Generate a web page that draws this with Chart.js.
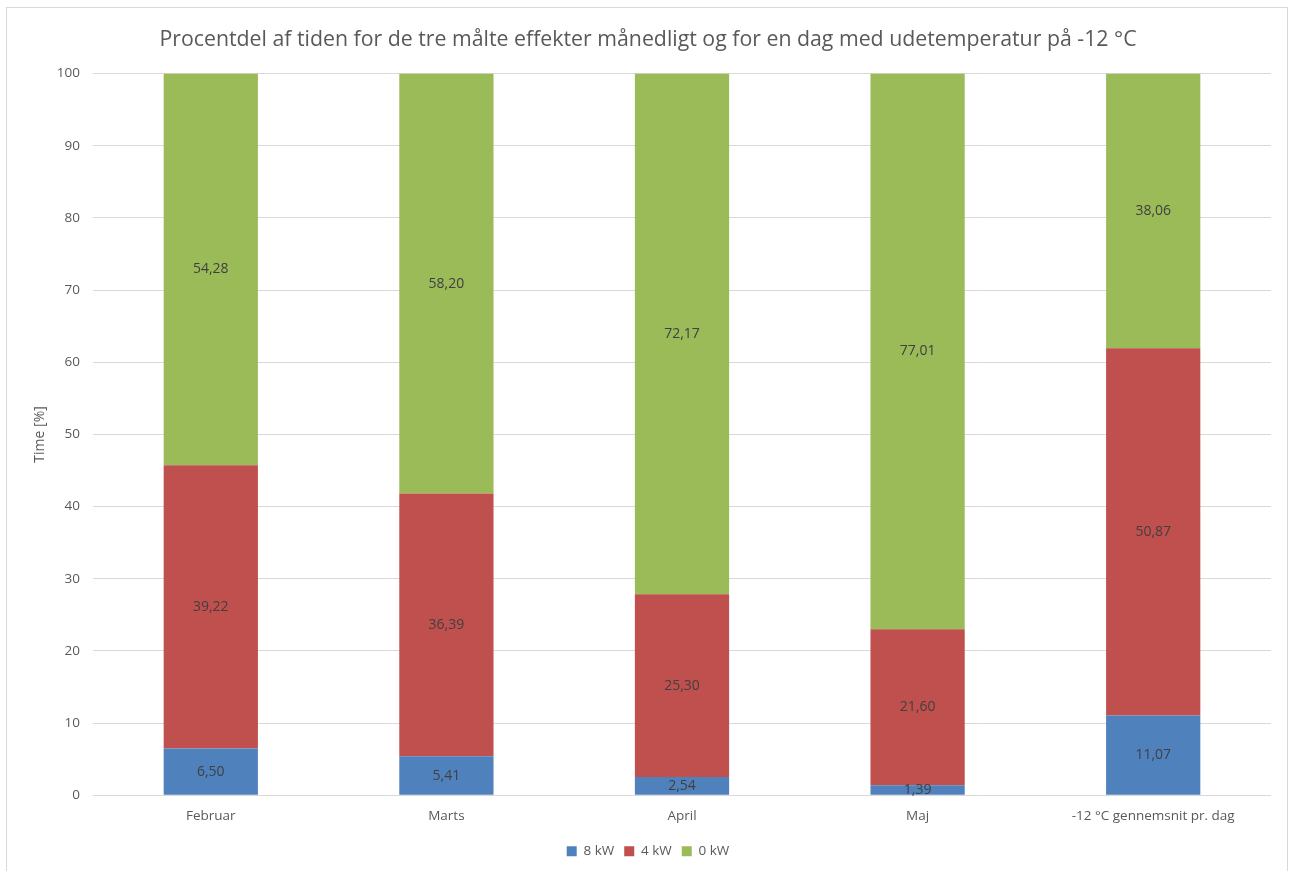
<!DOCTYPE html>
<html>
<head>
<meta charset="utf-8">
<script src="https://cdn.jsdelivr.net/npm/chart.js@4.4.0/dist/chart.umd.min.js"></script>
<style>
  body { margin: 0; background: #fff; }
  #wrap { position: relative; width: 1296px; height: 871px; }
  #frame { position: absolute; left: 6px; top: 7px; width: 1282px; height: 900px; border: 1px solid #d9d9d9; box-sizing: border-box; }
  canvas { position: absolute; left: 0; top: 0; }
</style>
</head>
<body>
<div id="wrap">
  <div id="frame"></div>
  <canvas id="myChart" width="1296" height="871"></canvas>
</div>
<script>
const categories = ['Februar', 'Marts', 'April', 'Maj', '-12 °C gennemsnit pr. dag'];
const kw8 = [6.50, 5.41, 2.54, 1.39, 11.07];
const kw4 = [39.22, 36.39, 25.30, 21.60, 50.87];
const kw0 = [54.28, 58.20, 72.17, 77.01, 38.06];

const fontFam = "'Open Sans', 'Liberation Sans', sans-serif";

// tegner værdierne midt i hver søjle
const barLabels = {
    id: 'barLabels',
    afterDatasetsDraw(chart) {
        const ctx = chart.ctx;
        ctx.save();
        ctx.font = '14px ' + fontFam;
        ctx.fillStyle = '#404040';
        ctx.textAlign = 'center';
        ctx.textBaseline = 'middle';
        chart.data.datasets.forEach((ds, i) => {
            chart.getDatasetMeta(i).data.forEach((bar, j) => {
                const txt = ds.data[j].toFixed(2).replace('.', ',');
                ctx.fillText(txt, bar.x, (bar.y + bar.base) / 2);
            });
        });
        ctx.restore();
    }
};

const ctx = document.getElementById('myChart').getContext('2d');
const myChart = new Chart(ctx, {
    type: 'bar',
    data: {
        labels: categories,
        datasets: [
            { label: '8 kW', data: kw8, backgroundColor: '#4F81BD' },
            { label: '4 kW', data: kw4, backgroundColor: '#C0504D' },
            { label: '0 kW', data: kw0, backgroundColor: '#9BBB59' }
        ]
    },
    options: {
        responsive: false,
        animation: false,
        categoryPercentage: 1.0,
        barPercentage: 0.4,
        layout: { padding: { left: 25, right: 25, top: 23, bottom: 3 } },
        plugins: {
            title: {
                display: true,
                text: 'Procentdel af tiden for de tre målte effekter månedligt og for en dag med udetemperatur på -12 °C',
                color: '#595959',
                font: { family: fontFam, size: 21.3, weight: 'normal' },
                padding: { top: 4, bottom: 21 }
            },
            legend: {
                position: 'bottom',
                labels: {
                    color: '#595959',
                    font: { family: fontFam, size: 13.5 },
                    boxWidth: 10,
                    boxHeight: 10,
                    padding: 10
                }
            },
            tooltip: { enabled: false }
        },
        scales: {
            x: {
                stacked: true,
                afterFit(scale) { scale.height += 5; },
                grid: { display: false },
                border: { display: false },
                ticks: { color: '#595959', font: { family: fontFam, size: 13.5 }, padding: 5 }
            },
            y: {
                stacked: true,
                min: 0,
                max: 100,
                afterFit(scale) { scale.width = 68; },
                ticks: { stepSize: 10, color: '#595959', font: { family: fontFam, size: 13.5 }, padding: 13 },
                grid: { color: '#d9d9d9', drawTicks: false },
                border: { display: false },
                title: {
                    display: true,
                    text: 'Time [%]',
                    color: '#595959',
                    font: { family: fontFam, size: 14 },
                    padding: { top: 7, bottom: 0 }
                }
            }
        }
    },
    plugins: [barLabels]
});
</script>
</body>
</html>
